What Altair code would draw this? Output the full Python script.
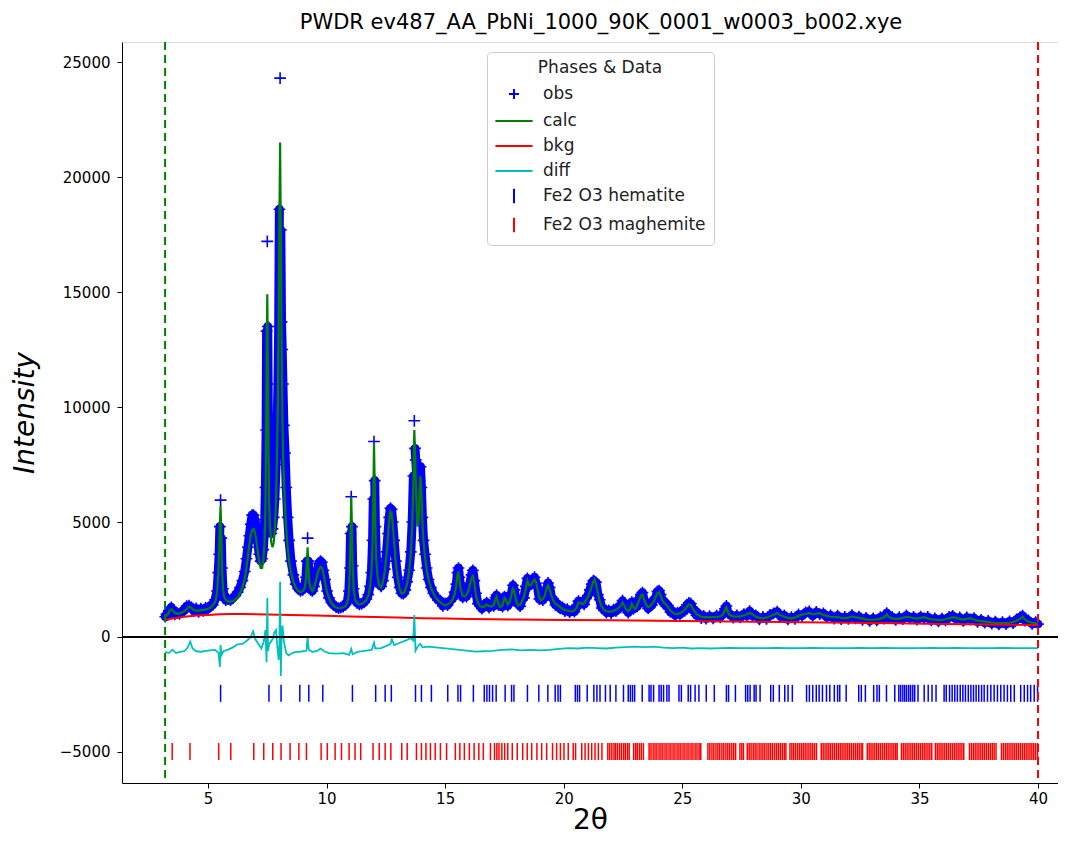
import altair as alt
import pandas as pd

# ---------------- data ----------------
two_theta = [
    3.20, 3.25, 3.30, 3.35, 3.40, 3.45, 3.50, 3.55, 3.60, 3.70,
    3.80, 3.90, 4.00, 4.10, 4.20, 4.30, 4.40, 4.50, 4.60, 4.70,
    4.80, 4.90, 5.00, 5.10, 5.20, 5.30, 5.38, 5.43, 5.47, 5.50,
    5.53, 5.56, 5.59, 5.63, 5.68, 5.75, 5.85, 5.95, 6.05, 6.15,
    6.25, 6.35, 6.45, 6.55, 6.62, 6.68, 6.74, 6.80, 6.86, 6.92,
    6.98, 7.04, 7.10, 7.16, 7.22, 7.28, 7.33, 7.38, 7.42, 7.45,
    7.47, 7.50, 7.52, 7.55, 7.58, 7.62, 7.67, 7.72, 7.77, 7.82,
    7.87, 7.91, 7.95, 7.98, 8.01, 8.04, 8.07, 8.10, 8.13, 8.16,
    8.20, 8.25, 8.30, 8.36, 8.42, 8.50, 8.60, 8.70, 8.80, 8.90,
    9.00, 9.08, 9.13, 9.17, 9.20, 9.23, 9.27, 9.33, 9.40, 9.47,
    9.54, 9.61, 9.68, 9.74, 9.80, 9.87, 9.94, 10.02, 10.10, 10.20,
    10.30, 10.40, 10.50, 10.60, 10.70, 10.80, 10.88, 10.94, 10.98, 11.01,
    11.04, 11.07, 11.10, 11.14, 11.20, 11.28, 11.38, 11.48, 11.58, 11.68,
    11.76, 11.83, 11.89, 11.94, 11.97, 12.00, 12.03, 12.06, 12.10, 12.15,
    12.22, 12.30, 12.38, 12.46, 12.53, 12.59, 12.64, 12.69, 12.74, 12.79,
    12.85, 12.92, 13.00, 13.08, 13.16, 13.24, 13.32, 13.40, 13.48, 13.55,
    13.61, 13.66, 13.70, 13.73, 13.76, 13.80, 13.84, 13.88, 13.92, 13.96,
    14.00, 14.04, 14.09, 14.15, 14.22, 14.30, 14.40, 14.50, 14.60, 14.70,
    14.80, 14.90, 15.00, 15.10, 15.20, 15.30, 15.40, 15.47, 15.52, 15.56,
    15.60, 15.66, 15.74, 15.82, 15.90, 15.98, 16.05, 16.11, 16.17, 16.23,
    16.30, 16.38, 16.46, 16.55, 16.65, 16.75, 16.85, 16.95, 17.05, 17.12,
    17.17, 17.24, 17.32, 17.42, 17.50, 17.56, 17.64, 17.72, 17.80, 17.86,
    17.92, 18.00, 18.08, 18.16, 18.24, 18.32, 18.40, 18.47, 18.54, 18.62,
    18.70, 18.77, 18.83, 18.90, 18.97, 19.04, 19.12, 19.20, 19.27, 19.34,
    19.41, 19.48, 19.56, 19.65, 19.75, 19.85, 19.95, 20.05, 20.15, 20.25,
    20.35, 20.45, 20.55, 20.62, 20.70, 20.78, 20.86, 20.94, 21.02, 21.10,
    21.18, 21.25, 21.30, 21.36, 21.44, 21.52, 21.60, 21.70, 21.80, 21.90,
    22.00, 22.10, 22.20, 22.30, 22.40, 22.48, 22.55, 22.63, 22.72, 22.80,
    22.87, 22.94, 23.02, 23.10, 23.18, 23.25, 23.32, 23.40, 23.48, 23.56,
    23.64, 23.72, 23.80, 23.88, 23.95, 24.02, 24.09, 24.16, 24.24, 24.32,
    24.40, 24.50, 24.60, 24.70, 24.80, 24.90, 25.00, 25.10, 25.20, 25.28,
    25.36, 25.44, 25.52, 25.60, 25.70, 25.80, 25.90, 26.00, 26.15, 26.30,
    26.45, 26.60, 26.72, 26.80, 26.86, 26.92, 27.00, 27.15, 27.30, 27.45,
    27.60, 27.72, 27.84, 27.96, 28.10, 28.25, 28.40, 28.55, 28.70, 28.85,
    29.00, 29.15, 29.30, 29.45, 29.60, 29.75, 29.90, 30.05, 30.20, 30.35,
    30.50, 30.65, 30.80, 30.95, 31.10, 31.25, 31.40, 31.55, 31.70, 31.85,
    32.00, 32.15, 32.30, 32.45, 32.60, 32.75, 32.90, 33.05, 33.20, 33.35,
    33.50, 33.62, 33.72, 33.85, 34.00, 34.15, 34.30, 34.45, 34.60, 34.75,
    34.90, 35.05, 35.20, 35.35, 35.50, 35.65, 35.80, 35.95, 36.10, 36.25,
    36.40, 36.55, 36.70, 36.85, 37.00, 37.15, 37.30, 37.45, 37.60, 37.75,
    37.90, 38.05, 38.20, 38.35, 38.50, 38.65, 38.80, 38.95, 39.10, 39.25,
    39.35, 39.45, 39.60, 39.75, 39.90, 40.00,
]
obs = [
    880, 990, 960, 1150, 1140, 1290, 1120, 1130, 980, 1040,
    1010, 1120, 1140, 1340, 1360, 1290, 1130, 1240, 1090, 1230,
    1130, 1270, 1220, 1370, 1390, 1620, 2000, 2800, 3600, 4800,
    5950, 4300, 3000, 2100, 1750, 1600, 1650, 1600, 1700, 1800,
    1950, 2150, 2450, 2850, 3400, 3900, 4400, 4900, 5300, 5300,
    5100, 4700, 4100, 3600, 3300, 3400, 3800, 4600, 6500, 9000,
    13300, 17200, 13500, 8500, 6000, 4800, 4500, 4700, 5200, 6000,
    7500, 9000, 11000, 13500, 18600, 24300, 17700, 13700, 12500, 11000,
    9200, 8000, 6500, 5200, 4200, 3300, 2700, 2300, 2100, 2000,
    2050, 2200, 2600, 3300, 4300, 3300, 2400, 2050, 2000, 2200,
    2500, 2900, 3200, 3300, 3250, 2900, 2500, 2000, 1700, 1500,
    1380, 1300, 1260, 1280, 1320, 1400, 1550, 2000, 3000, 4500,
    6100, 4800, 3100, 2100, 1650, 1480, 1420, 1440, 1500, 1650,
    1850, 2200, 2800, 4200, 6000, 8500, 6800, 4800, 3400, 2700,
    2300, 2200, 2450, 2950, 3700, 4500, 5200, 5600, 5550, 5000,
    4200, 3300, 2600, 2150, 1900, 1880, 2050, 2400, 2900, 3700,
    5000, 7000, 9400, 8200, 7700, 7000, 5800, 5800, 6800, 7400,
    6500, 5200, 4200, 3600, 3000, 2500, 2150, 1900, 1750, 1600,
    1580, 1350, 1460, 1380, 1570, 1650, 1950, 2300, 2800, 3000,
    2600, 2150, 1720, 1830, 1760, 2100, 2350, 2700, 2900, 2450,
    1900, 1450, 1420, 1230, 1400, 1500, 1280, 1400, 1350, 1720,
    1820, 1400, 1380, 1320, 1760, 1700, 1360, 1600, 1920, 2250,
    2050, 1500, 1450, 1340, 1620, 1700, 2200, 2550, 2200, 2330,
    2480, 2600, 2330, 2150, 1650, 1680, 1600, 1880, 2050, 2350,
    2150, 1740, 1650, 1390, 1430, 1240, 1290, 1120, 1210, 1080,
    1170, 1100, 1350, 1560, 1450, 1490, 1420, 1680, 1800, 2050,
    2300, 2450, 2420, 2380, 1850, 1620, 1260, 1240, 1060, 1160,
    1040, 1190, 1120, 1310, 1290, 1580, 1320, 1260, 1060, 1290,
    1520, 1220, 1300, 1330, 1680, 1850, 1930, 1550, 1440, 1240,
    1400, 1390, 1640, 1700, 1980, 2020, 1850, 1540, 1550, 1340,
    1370, 1090, 1120, 940, 1060, 980, 1160, 1130, 1400, 1480,
    1450, 1170, 1170, 940, 990, 820, 920, 800, 910, 810,
    930, 850, 1050, 1230, 1350, 1050, 1010, 840, 940, 850,
    1000, 930, 1130, 920, 940, 770, 870, 790, 960, 1030,
    1100, 890, 940, 770, 860, 790, 980, 920, 1070, 1110,
    920, 1090, 990, 1030, 860, 940, 800, 930, 780, 870,
    790, 950, 810, 890, 740, 830, 700, 810, 720, 860,
    800, 1040, 820, 870, 740, 860, 780, 940, 810, 880,
    750, 890, 810, 870, 720, 810, 680, 800, 720, 870,
    920, 780, 850, 700, 850, 770, 820, 660, 750, 620,
    700, 580, 670, 550, 650, 560, 680, 600, 770, 860,
    930, 710, 720, 570, 650, 560,
]
calc = [
    900, 940, 980, 1080, 1150, 1200, 1180, 1100, 1040, 1010,
    1020, 1060, 1120, 1220, 1320, 1260, 1180, 1150, 1150, 1170,
    1180, 1200, 1230, 1280, 1380, 1520, 1900, 2700, 3700, 4900,
    5700, 4400, 3000, 2100, 1750, 1600, 1550, 1530, 1560, 1620,
    1720, 1900, 2150, 2550, 3000, 3500, 4000, 4400, 4650, 4700,
    4550, 4200, 3700, 3250, 3000, 3000, 3300, 4000, 5500, 8500,
    12000, 14900, 12500, 8000, 5800, 4700, 4100, 3900, 4100, 4700,
    6000, 8000, 10500, 13500, 18000, 21500, 17500, 13000, 10000, 8200,
    6800, 5600, 4700, 3900, 3300, 2800, 2400, 2150, 2000, 1950,
    2000, 2150, 2500, 3200, 3900, 3100, 2400, 2100, 2000, 2150,
    2400, 2700, 2950, 3050, 3000, 2750, 2350, 1950, 1700, 1480,
    1350, 1280, 1250, 1250, 1290, 1350, 1500, 1900, 2900, 4400,
    6100, 4700, 3100, 2100, 1650, 1480, 1420, 1440, 1500, 1620,
    1800, 2150, 2800, 4000, 6000, 8400, 6600, 4600, 3300, 2600,
    2250, 2150, 2400, 2900, 3600, 4400, 5100, 5450, 5400, 4900,
    4100, 3200, 2550, 2100, 1900, 1900, 2050, 2350, 2850, 3600,
    4800, 6700, 9000, 8000, 6800, 5600, 4800, 5000, 6300, 7000,
    6200, 5000, 4100, 3500, 2950, 2500, 2150, 1900, 1720, 1600,
    1500, 1420, 1380, 1420, 1480, 1600, 1850, 2250, 2700, 2850,
    2500, 2050, 1800, 1750, 1820, 2000, 2300, 2550, 2650, 2350,
    1800, 1500, 1350, 1300, 1320, 1420, 1350, 1320, 1400, 1650,
    1750, 1450, 1300, 1380, 1700, 1620, 1420, 1520, 1850, 2150,
    1950, 1550, 1380, 1400, 1550, 1750, 2100, 2450, 2250, 2250,
    2400, 2500, 2400, 2050, 1700, 1600, 1650, 1800, 2100, 2250,
    2050, 1800, 1580, 1450, 1380, 1300, 1220, 1180, 1150, 1130,
    1110, 1150, 1280, 1500, 1500, 1420, 1480, 1600, 1750, 1950,
    2200, 2400, 2500, 2300, 1900, 1550, 1320, 1180, 1120, 1100,
    1100, 1130, 1180, 1250, 1350, 1500, 1380, 1200, 1120, 1220,
    1450, 1280, 1230, 1380, 1600, 1800, 1850, 1600, 1380, 1300,
    1330, 1450, 1550, 1750, 1900, 1950, 1800, 1600, 1480, 1400,
    1300, 1150, 1050, 1000, 990, 1030, 1090, 1180, 1320, 1420,
    1380, 1230, 1100, 1000, 930, 880, 860, 860, 850, 860,
    870, 900, 980, 1180, 1300, 1100, 950, 900, 880, 900,
    940, 990, 1060, 980, 880, 830, 810, 840, 900, 970,
    1040, 950, 880, 830, 800, 840, 920, 970, 1000, 1050,
    980, 1020, 1040, 960, 920, 880, 860, 870, 830, 810,
    840, 890, 860, 830, 800, 770, 750, 750, 770, 800,
    850, 980, 860, 810, 790, 800, 830, 880, 860, 820,
    800, 830, 860, 810, 770, 750, 730, 740, 770, 810,
    860, 830, 790, 760, 790, 820, 760, 710, 690, 670,
    650, 630, 610, 600, 600, 610, 620, 650, 710, 800,
    880, 760, 660, 620, 600, 590,
]
# isolated obs points standing above the dense run of markers at peak tops
isolated_tops = [5.53, 7.50, 8.04, 9.20, 11.04, 12.00, 13.70]
bkg_x = [3.2, 3.6, 4.0, 4.5, 5.0, 5.5, 6.0, 6.5, 7.0, 8.0, 9.0, 10.0, 11.0,
         12.0, 13.0, 14.0, 15.0, 16.0, 17.0, 18.0, 19.0, 20.0, 22.0, 24.0,
         26.0, 28.0, 30.0, 32.0, 34.0, 36.0, 38.0, 40.0]
bkg_y = [750, 820, 880, 930, 960, 985, 1000, 1000, 990, 970, 945, 920, 895,
         870, 845, 820, 800, 780, 770, 760, 750, 740, 725, 710,
         690, 665, 640, 615, 595, 570, 545, 520]
diff_x = [3.20, 3.35, 3.50, 3.65, 3.80, 4.00, 4.15, 4.25, 4.35, 4.50,
          4.70, 4.90, 5.10, 5.30, 5.45, 5.50, 5.53, 5.56, 5.65, 5.85,
          6.05, 6.25, 6.45, 6.65, 6.80, 6.90, 7.00, 7.15, 7.25, 7.35,
          7.42, 7.47, 7.50, 7.53, 7.58, 7.65, 7.72, 7.80, 7.87, 7.92,
          7.98, 8.01, 8.04, 8.07, 8.10, 8.14, 8.20, 8.30, 8.40, 8.55,
          8.70, 8.85, 9.00, 9.15, 9.20, 9.25, 9.40, 9.60, 9.75, 9.90,
          10.10, 10.40, 10.70, 10.95, 11.04, 11.10, 11.30, 11.60, 11.90, 12.00,
          12.05, 12.30, 12.50, 12.70, 12.75, 12.85, 13.10, 13.35, 13.55, 13.65,
          13.70, 13.75, 13.85, 13.95, 14.05, 14.30, 14.60, 14.90, 15.20, 15.60,
          16.00, 16.30, 16.60, 17.00, 17.40, 17.80, 18.20, 18.60, 19.00, 19.40,
          19.80, 20.20, 20.60, 21.00, 21.40, 21.80, 22.20, 22.60, 23.00, 23.40,
          23.80, 24.20, 24.60, 25.00, 25.40, 25.80, 26.20, 26.60, 27.00, 27.50,
          28.00, 28.50, 29.00, 29.50, 30.00, 30.50, 31.00, 31.50, 32.00, 32.50,
          33.00, 33.50, 34.00, 34.50, 35.00, 35.50, 36.00, 36.50, 37.00, 37.50,
          38.00, 38.50, 39.00, 39.50, 40.00]
diff_y = [-650, -700, -550, -700, -650, -620, -450, -200, -500, -620,
          -640, -600, -580, -560, -700, -1300, -350, -800, -620, -550,
          -450, -320, -300, -150, 0, 250, -100, -350, -500, -200,
          300, -1100, 1700, -600, -300, -200, -100, 200, 300, -400,
          -1000, -400, 2400, -1700, -100, 500, -200, -700, -800, -700,
          -650, -650, -620, -600, -20, -550, -650, -600, -500, -620,
          -700, -720, -700, -780, -520, -750, -650, -600, -560, -250,
          -500, -480, -400, -300, -100, -350, -250, -150, -50, -150,
          950, -600, -400, -300, -450, -420, -450, -480, -520, -560,
          -600, -640, -620, -600, -560, -540, -580, -560, -580, -560,
          -520, -480, -500, -460, -480, -500, -460, -440, -420, -440,
          -420, -460, -480, -460, -500, -480, -500, -480, -470, -480,
          -490, -480, -470, -490, -480, -470, -480, -490, -480, -470,
          -480, -470, -480, -490, -480, -470, -480, -470, -480, -490,
          -480, -470, -480, -480, -480]
hematite = [5.53, 7.57, 8.08, 8.87, 9.25, 9.84, 11.09, 12.07, 12.47, 12.73,
            13.75, 14.00, 14.42, 15.11, 15.54, 15.65, 16.19, 16.65, 16.76, 16.87,
            17.00, 17.15, 17.53, 17.80, 17.90, 18.47, 18.95, 19.33, 19.64, 19.76,
            19.86, 20.49, 20.58, 20.67, 20.99, 21.27, 21.40, 21.53, 21.76, 21.96,
            22.20, 22.52, 22.72, 22.81, 22.90, 22.99, 23.31, 23.60, 23.68, 23.79,
            24.02, 24.11, 24.21, 24.35, 24.44, 24.86, 24.96, 25.25, 25.35, 25.54,
            25.70, 26.01, 26.35, 26.86, 26.95, 27.24, 27.67, 27.76, 27.86, 28.03,
            28.11, 28.28, 28.73, 28.84, 29.09, 29.32, 29.46, 29.64, 30.24, 30.36,
            30.50, 30.65, 30.77, 30.91, 31.08, 31.22, 31.41, 31.55, 31.64, 31.91,
            32.44, 32.55, 32.72, 33.07, 33.21, 33.31, 33.61, 33.96, 34.13, 34.21,
            34.30, 34.38, 34.46, 34.55, 34.63, 34.72, 34.80, 34.94, 35.20, 35.37,
            35.53, 35.70, 36.04, 36.13, 36.27, 36.38, 36.49, 36.60, 36.72, 36.83,
            36.94, 37.06, 37.17, 37.28, 37.39, 37.50, 37.62, 37.73, 37.87, 38.01,
            38.15, 38.29, 38.43, 38.57, 38.71, 38.85, 39.00, 39.27, 39.42, 39.56,
            39.69, 39.84, 39.98]
maghemite = [3.49, 4.24, 5.45, 5.96, 6.93, 7.35, 7.73, 8.08, 8.46, 8.83,
             9.15, 9.77, 10.03, 10.36, 10.63, 10.95, 11.20, 11.44, 11.96, 12.22,
             12.47, 12.71, 13.17, 13.40, 13.79, 14.00, 14.19, 14.38, 14.58, 14.80,
             15.06, 15.43, 15.62, 15.81, 16.02, 16.22, 16.42, 16.61, 16.91, 17.08,
             17.18, 17.27, 17.39, 17.51, 17.64, 17.83, 18.04, 18.27, 18.46, 18.65,
             18.87, 19.07, 19.28, 19.53, 19.70, 19.86, 20.01, 20.19, 20.40, 20.50,
             20.76, 20.90, 21.04, 21.18, 21.32, 21.46, 21.61,
             21.86, 21.94, 22.03, 22.12, 22.19, 22.27, 22.36, 22.44, 22.53, 22.60,
             22.69, 22.76, 22.95, 23.03, 23.10, 23.19, 23.27, 23.36, 23.60, 23.68,
             23.77, 23.85, 23.93, 24.02, 24.10, 24.18, 24.27, 24.35, 24.44, 24.52,
             24.61, 24.69, 24.78, 24.86, 24.94, 25.03, 25.11, 25.20, 25.28, 25.37,
             25.45, 25.54, 25.62, 25.71, 25.78, 26.08, 26.16, 26.25, 26.33, 26.42,
             26.50, 26.58, 26.67, 26.75, 26.84, 26.92, 27.00, 27.09, 27.17, 27.25,
             27.43, 27.51, 27.58, 27.74, 27.82, 27.90, 27.99, 28.07, 28.15, 28.24,
             28.32, 28.40, 28.48, 28.57, 28.65, 28.73, 28.81, 28.90, 28.98, 29.06,
             29.14, 29.22, 29.30, 29.37, 29.54, 29.62, 29.70, 29.78, 29.86, 29.94,
             30.02, 30.10, 30.18, 30.26, 30.34, 30.42, 30.50, 30.58, 30.66, 30.86,
             30.94, 31.02, 31.10, 31.18, 31.26, 31.34, 31.42, 31.50, 31.58, 31.66,
             31.74, 31.82, 31.90, 31.98, 32.06, 32.14, 32.22, 32.30, 32.38, 32.46,
             32.54, 32.60, 32.80, 32.88, 32.96, 33.04, 33.12, 33.20, 33.28, 33.36,
             33.44, 33.52, 33.60, 33.68, 33.76, 33.84, 33.92, 34.00, 34.06, 34.24,
             34.32, 34.40, 34.48, 34.56, 34.64, 34.72, 34.80, 34.88, 34.96, 35.04,
             35.12, 35.20, 35.28, 35.36, 35.44, 35.52, 35.67, 35.75, 35.83, 35.91,
             35.99, 36.07, 36.15, 36.23, 36.31, 36.39, 36.47, 36.55, 36.63, 36.71,
             36.79, 36.87, 37.11, 37.19, 37.27, 37.35, 37.43, 37.51, 37.59, 37.67,
             37.75, 37.83, 37.91, 37.99, 38.07, 38.15, 38.23, 38.46, 38.54, 38.62,
             38.70, 38.78, 38.86, 38.94, 39.02, 39.10, 39.18, 39.26, 39.34, 39.42,
             39.50, 39.58, 39.66, 39.74, 39.82, 39.90, 39.98]
hematite_level = -2450
maghemite_level = -4980
limit_x = [3.19, 40.0]
limit_names = ["low", "high"]
x_ticks = [5, 10, 15, 20, 25, 30, 35, 40]
y_ticks = [-5000, 0, 5000, 10000, 15000, 20000, 25000]
x_domain = [1.373, 40.843]
y_domain = [-6348, 25870]

series = ["obs", "calc", "bkg", "diff", "Fe2 O3 hematite", "Fe2 O3 maghemite"]
series_colors = ["#0000ff", "#008000", "#ff0000", "#00bfbf", "#0000ff", "#ff0000"]
PLUS = "M-0.42,0L0.42,0M0,-0.42L0,0.42"
HLINE = "M-1.55,0L1.55,0"
VTICK = "M0,-0.6L0,0.6"
series_shapes = [PLUS, HLINE, HLINE, HLINE, VTICK, VTICK]

# ---------------- tables ----------------
prof = pd.DataFrame({"x": two_theta, "obs": obs, "calc": calc})
prof["s_obs"] = "obs"
prof["s_calc"] = "calc"
# the dense run of obs markers (drawn as a thick stroke), broken at isolated tops
prof["obs_run"] = prof["obs"].where(~prof["x"].isin(isolated_tops))
bkg_df = pd.DataFrame({"x": bkg_x, "y": bkg_y, "s": "bkg"})
diff_df = pd.DataFrame({"x": diff_x, "y": diff_y, "s": "diff"})
hem_df = pd.DataFrame({"x": hematite, "y": hematite_level, "s": "Fe2 O3 hematite"})
mag_df = pd.DataFrame({"x": maghemite, "y": maghemite_level, "s": "Fe2 O3 maghemite"})
lim_df = pd.DataFrame({"x": limit_x, "n": limit_names})
zero_df = pd.DataFrame({"y": [0]})

FONT = "DejaVu Sans"
xs = alt.Scale(domain=x_domain, nice=False, zero=False)
ys = alt.Scale(domain=y_domain, nice=False, zero=False)
color_scale = alt.Scale(domain=series, range=series_colors)
shape_scale = alt.Scale(domain=series, range=series_shapes)

X_AXIS = alt.Axis(
    values=x_ticks, format="d", title="2θ", titleFontSize=28, titleFontWeight="normal",
    titleFont=FONT, titlePadding=0, labelFontSize=15, labelFont=FONT, labelColor="black",
    tickSize=5, tickColor="black", domainColor="black", grid=False, labelPadding=3,
    titleColor="black")
Y_AXIS = alt.Axis(
    values=y_ticks, format="d", title="Intensity", titleFontSize=28,
    titleFontWeight="normal", titleFontStyle="italic", titleFont=FONT, titlePadding=20,
    labelFontSize=15, labelFont=FONT, labelColor="black", tickSize=5, tickColor="black",
    domainColor="black", grid=False, labelPadding=7, titleColor="black")


def X(f):
    return alt.X(f, type="quantitative", scale=xs, axis=X_AXIS)


def Y(f):
    return alt.Y(f, type="quantitative", scale=ys, axis=Y_AXIS)


legend = alt.Legend(
    title="Phases & Data", orient="none", legendX=365, legendY=10,
    fillColor="white", strokeColor="#cccccc", cornerRadius=4, padding=8,
    titleFontSize=17, titleFont=FONT, titleFontWeight="normal", titleColor="#222222",
    titleAnchor="middle", titlePadding=4,
    labelFontSize=17, labelFont=FONT, labelColor="#222222", labelOffset=16, labelLimit=400,
    symbolSize=576, symbolStrokeWidth=2, rowPadding=4, symbolOffset=6,
)

obs_layer = alt.Chart(prof).mark_point(filled=False, strokeWidth=1.6, opacity=1, clip=True, size=780).encode(
    x=X("x"), y=Y("obs"),
    color=alt.Color("s_obs:N", scale=color_scale, legend=legend, title="Phases & Data"),
    shape=alt.Shape("s_obs:N", scale=shape_scale, legend=legend, title="Phases & Data"),
)
obs_run_layer = alt.Chart(prof).mark_line(
    strokeWidth=9, strokeJoin="round", strokeCap="round", clip=True
).encode(
    x=X("x"), y=Y("obs_run"),
    color=alt.Color("s_obs:N", scale=color_scale, legend=None),
)
calc_layer = alt.Chart(prof).mark_line(strokeWidth=2.2, clip=True).encode(
    x=X("x"), y=Y("calc"),
    color=alt.Color("s_calc:N", scale=color_scale, legend=None),
)
bkg_layer = alt.Chart(bkg_df).mark_line(strokeWidth=2, clip=True).encode(
    x=X("x"), y=Y("y"), color=alt.Color("s:N", scale=color_scale, legend=None),
)
diff_layer = alt.Chart(diff_df).mark_line(strokeWidth=1.8, clip=True).encode(
    x=X("x"), y=Y("y"), color=alt.Color("s:N", scale=color_scale, legend=None),
)
zero_layer = alt.Chart(zero_df).mark_rule(color="black", strokeWidth=2).encode(y=Y("y"))
hem_layer = alt.Chart(hem_df).mark_point(filled=False, strokeWidth=1.5, opacity=1, clip=True, size=800).encode(
    x=X("x"), y=Y("y"),
    color=alt.Color("s:N", scale=color_scale, legend=None),
    shape=alt.Shape("s:N", scale=shape_scale, legend=None),
)
mag_layer = alt.Chart(mag_df).mark_point(filled=False, strokeWidth=1.5, opacity=1, clip=True, size=800).encode(
    x=X("x"), y=Y("y"),
    color=alt.Color("s:N", scale=color_scale, legend=None),
    shape=alt.Shape("s:N", scale=shape_scale, legend=None),
)
lim_layer = alt.Chart(lim_df).mark_rule(strokeWidth=2, strokeDash=[8, 5]).encode(
    x=X("x"),
    stroke=alt.Stroke("n:N", scale=alt.Scale(domain=limit_names, range=["#008000", "#ff0000"]), legend=None),
)

chart = alt.layer(
    obs_layer, obs_run_layer, calc_layer, bkg_layer, diff_layer, zero_layer,
    hem_layer, mag_layer, lim_layer
).properties(
    width=936, height=741,
    title=alt.TitleParams("PWDR ev487_AA_PbNi_1000_90K_0001_w0003_b002.xye",
                          fontSize=21, font=FONT, fontWeight="normal", color="black",
                          anchor="middle", offset=8, dx=11),
    autosize=alt.AutoSizeParams(type="none"),
    padding={"left": 114, "top": 34, "right": 0, "bottom": 52},
).configure_view(stroke="black", strokeWidth=1).configure_axis(
    labelFontSize=15, labelFont=FONT
).configure(font=FONT, background="white")

chart.save("out.html", embed_options={"renderer": "svg", "actions": False})
